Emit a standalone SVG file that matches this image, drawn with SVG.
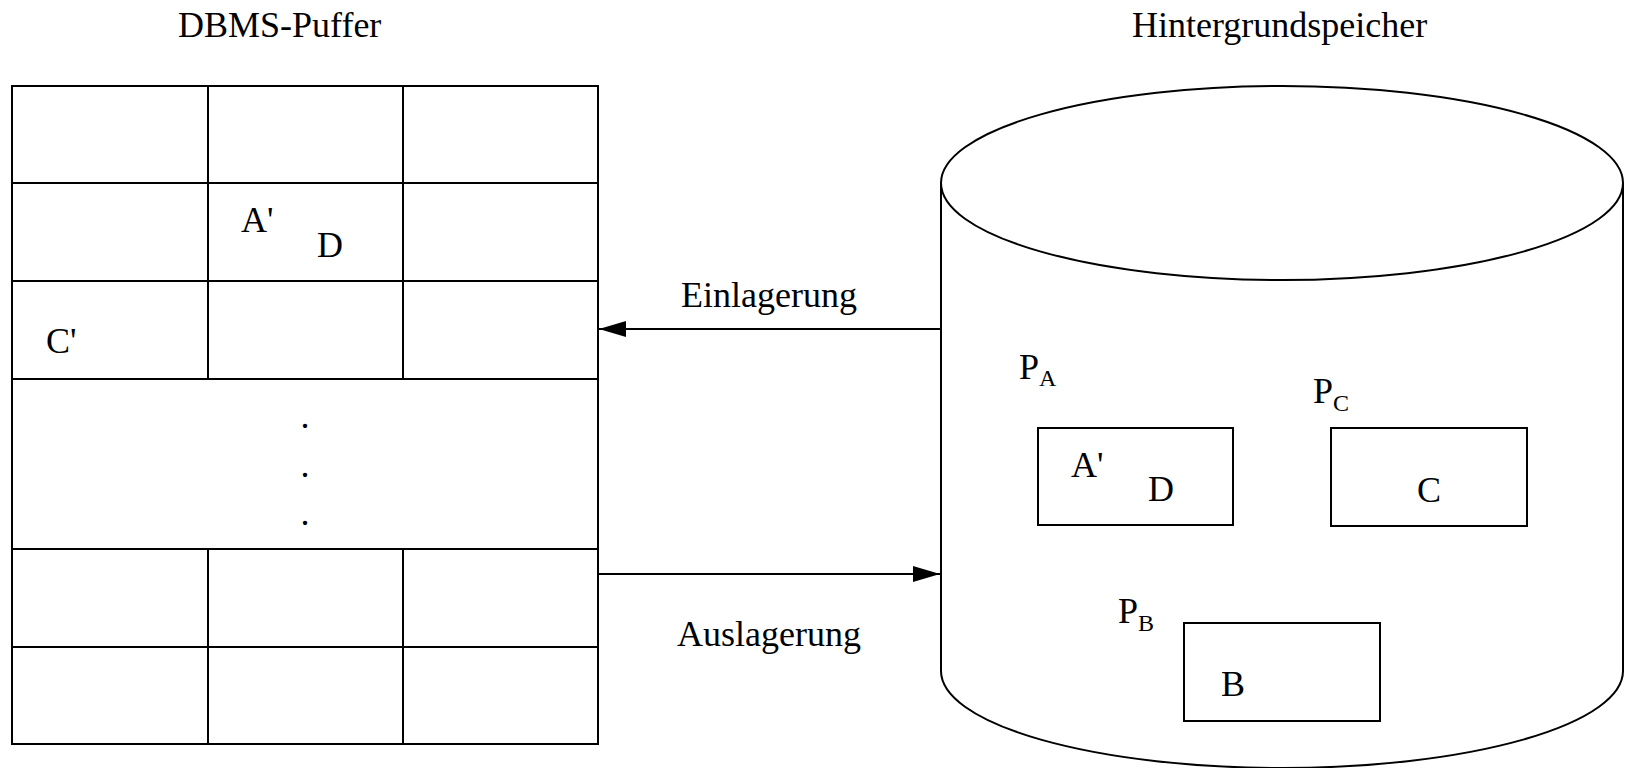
<svg xmlns="http://www.w3.org/2000/svg" width="1626" height="768" viewBox="0 0 1626 768">
<style>
.ln{fill:none;stroke:#000;stroke-width:2}
.t{font-family:"Liberation Serif","Times New Roman",serif;font-size:36px;fill:#000}
.s{font-size:24px}
</style>
<defs>
<marker id="ah" markerWidth="27" markerHeight="16" refX="27" refY="8" orient="auto" markerUnits="userSpaceOnUse">
<path d="M0,0 L27,8 L0,16 Z" fill="#000"/>
</marker>
</defs>
<rect width="1626" height="768" fill="#fff"/>
<g id="titles">
<text class="t" x="178" y="37">DBMS-Puffer</text>
<text class="t" x="1132" y="37">Hintergrundspeicher</text>
</g>
<g id="puffer">
<rect class="ln" x="12" y="86" width="586" height="658"/>
<path class="ln" d="M12 183H598M12 281H598M12 379H598M12 549H598M12 647H598M208 86V379M403 86V379M208 549V744M403 549V744"/>
<text class="t" x="241" y="232">A'</text>
<text class="t" x="317" y="257">D</text>
<text class="t" x="46" y="353">C'</text>
<text class="t" x="305" y="428" text-anchor="middle">.</text>
<text class="t" x="305" y="477" text-anchor="middle">.</text>
<text class="t" x="305" y="525" text-anchor="middle">.</text>
</g>
<g id="speicher">
<ellipse class="ln" cx="1282" cy="183" rx="341" ry="97"/>
<path class="ln" d="M941 183V671A341 97 0 0 0 1623 671V183"/>
</g>
<g id="PA">
<text class="t" x="1019" y="379">P<tspan class="s" x="1039" y="386">A</tspan></text>
<rect class="ln" x="1038" y="428" width="195" height="97"/>
<text class="t" x="1071" y="477">A'</text>
<text class="t" x="1148" y="501">D</text>
</g>
<g id="PC">
<text class="t" x="1313" y="403">P<tspan class="s" x="1333" y="411">C</tspan></text>
<rect class="ln" x="1331" y="428" width="196" height="98"/>
<text class="t" x="1417" y="502">C</text>
</g>
<g id="PB">
<text class="t" x="1118" y="623">P<tspan class="s" x="1138" y="631">B</tspan></text>
<rect class="ln" x="1184" y="623" width="196" height="98"/>
<text class="t" x="1221" y="696">B</text>
</g>
<g id="connectors">
<path class="ln" d="M941 329H599" marker-end="url(#ah)"/>
<text class="t" x="681" y="307">Einlagerung</text>
<path class="ln" d="M598 574H940" marker-end="url(#ah)"/>
<text class="t" x="677" y="646">Auslagerung</text>
</g>
</svg>
